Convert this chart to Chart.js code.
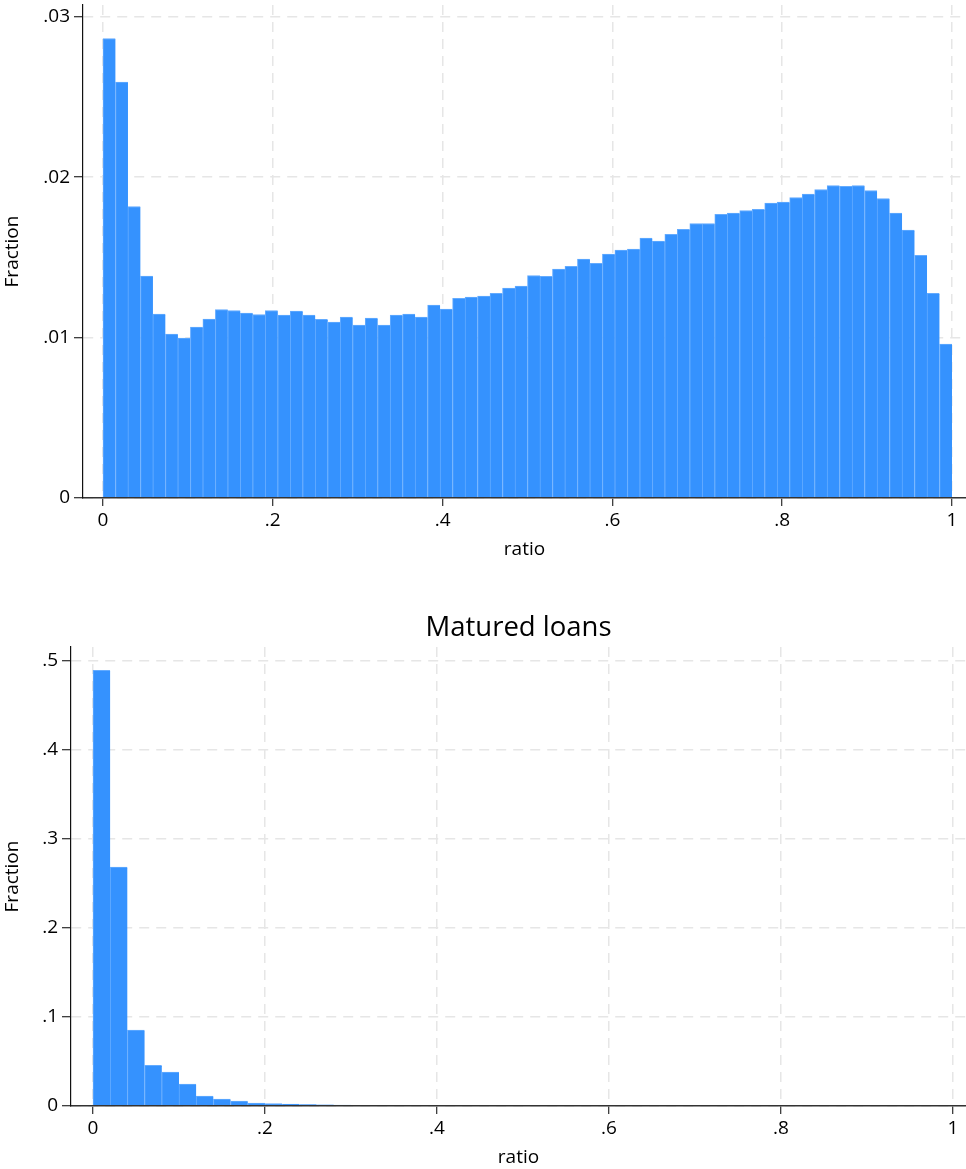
<!DOCTYPE html>
<html>
<head>
<meta charset="utf-8">
<title>ratio histograms</title>
<script src="https://cdn.jsdelivr.net/npm/chart.js@4.4.1/dist/chart.umd.min.js"></script>
<style>
  html, body { margin: 0; padding: 0; background: #fff; }
  #wrap { position: relative; width: 966px; height: 1169px; }
  .panel { position: absolute; left: 0; width: 966px; }
  #panelAll { top: 0; height: 580px; }
  #panelMatured { top: 580px; height: 589px; }
  canvas { display: block; }
</style>
</head>
<body>
<div id="wrap">
  <div class="panel" id="panelAll"><canvas id="allChart" width="966" height="580"></canvas></div>
  <div class="panel" id="panelMatured"><canvas id="maturedChart" width="966" height="589"></canvas></div>
</div>
<script>
// All loans: fraction of observations in each of 68 equal-width bins of ratio on [0, 1]
const allLoansFraction = [
  0.02864, 0.02592, 0.01817, 0.01383, 0.01146, 0.01022, 0.00997, 0.01065,
  0.01115, 0.01175, 0.01169, 0.01153, 0.01144, 0.01169, 0.01140, 0.01165,
  0.01140, 0.01113, 0.01097, 0.01128, 0.01078, 0.01121, 0.01078, 0.01140,
  0.01146, 0.01128, 0.01202, 0.01178, 0.01244, 0.01252, 0.01259, 0.01275,
  0.01308, 0.01321, 0.01387, 0.01381, 0.01427, 0.01444, 0.01489, 0.01462,
  0.01520, 0.01545, 0.01551, 0.01620, 0.01601, 0.01643, 0.01675, 0.01711,
  0.01711, 0.01768, 0.01776, 0.01792, 0.01799, 0.01838, 0.01844, 0.01873,
  0.01894, 0.01923, 0.01948, 0.01942, 0.01948, 0.01917, 0.01867, 0.01776,
  0.01670, 0.01512, 0.01275, 0.00960
];

// Matured loans: fraction of observations in 50 bins of width .02
const maturedFraction = [
  0.4893, 0.2682, 0.0853, 0.0457, 0.0382, 0.0247, 0.0112, 0.0079,
  0.0056, 0.0034, 0.0026, 0.0022, 0.0017, 0.0012, 0.0009, 0.0008,
  0.0007, 0.0007, 0.0006, 0.0006, 0.0006, 0.0005, 0.0005, 0.0005,
  0.0005, 0.0004, 0.0004, 0.0004, 0.0004, 0.0004, 0.0004, 0.0003,
  0.0003, 0.0003, 0.0003, 0.0003, 0.0003, 0.0003, 0.0003, 0.0003,
  0.0003, 0.0003, 0.0003, 0.0003, 0.0003, 0.0003, 0.0003, 0.0003,
  0.0000, 0.0005
];

const ratioTickValues = [0, 0.2, 0.4, 0.6, 0.8, 1];
const ratioTickLabels = ['0', '.2', '.4', '.6', '.8', '1'];
const allFractionTickValues = [0, 0.01, 0.02, 0.03];
const allFractionTickLabels = ['0', '.01', '.02', '.03'];
const maturedFractionTickValues = [0, 0.1, 0.2, 0.3, 0.4, 0.5];
const maturedFractionTickLabels = ['0', '.1', '.2', '.3', '.4', '.5'];

const FONT = 'Open Sans';
const TEXT_SIZE = 19;
const BAR_FILL = '#3592fe';
const BAR_EDGE = '#63abff';
const GRID = '#e6e6e6';
const INK = '#000';

function histogram(canvasId, fractions, yTickValues, yTickLabels, g) {
  const n = fractions.length;
  const points = fractions.map((v, i) => ({ x: (i + 0.5) / n, y: v }));
  return new Chart(document.getElementById(canvasId), {
    type: 'bar',
    data: {
      datasets: [{
        data: points,
        backgroundColor: BAR_FILL,
        borderColor: BAR_EDGE,
        borderWidth: { top: 1, left: 1, right: 0, bottom: 0 },
        borderSkipped: 'start',
        barPercentage: 1,
        categoryPercentage: 1
      }]
    },
    options: {
      responsive: false,
      animation: false,
      layout: { padding: { top: g.padTop, left: 0, right: 0, bottom: 0 } },
      plugins: {
        legend: { display: false },
        tooltip: { enabled: false },
        title: g.title ? {
          display: true,
          text: g.title,
          fullSize: false,
          color: INK,
          font: { family: FONT, size: 27.5, weight: 'normal', lineHeight: 1.2 },
          padding: { top: g.titlePadTop, bottom: g.titlePadBottom }
        } : { display: false }
      },
      scales: {
        x: {
          type: 'linear',
          offset: false,
          min: g.xMin,
          max: g.xMax,
          afterBuildTicks: s => { s.ticks = ratioTickValues.map(v => ({ value: v })); },
          afterFit: s => { s.height = g.xAxisHeight; s.paddingLeft = 0; s.paddingRight = 0; },
          ticks: {
            autoSkip: false, maxRotation: 0, padding: 3, color: INK,
            font: { family: FONT, size: TEXT_SIZE },
            callback: (v, i) => ratioTickLabels[i]
          },
          grid: {
            offset: false,
            color: GRID, lineWidth: 1.5, tickLength: 8, tickColor: INK, tickWidth: 1,
            tickBorderDash: []
          },
          border: { display: true, color: '#333', width: 1.5, dash: [10, 7], z: 1 },
          title: {
            display: true, text: 'ratio', color: INK,
            font: { family: FONT, size: TEXT_SIZE, lineHeight: 1.2 },
            padding: { top: 0, bottom: g.xTitlePadBottom }
          }
        },
        y: {
          type: 'linear',
          min: 0,
          max: g.yMax,
          afterBuildTicks: s => { s.ticks = yTickValues.map(v => ({ value: v })); },
          afterFit: s => { s.width = g.yAxisWidth; s.paddingTop = 0; s.paddingBottom = 0; },
          ticks: {
            autoSkip: false, padding: 4, color: INK,
            font: { family: FONT, size: TEXT_SIZE },
            callback: (v, i) => yTickLabels[i]
          },
          grid: {
            color: GRID, lineWidth: 1.5, tickLength: 9, tickColor: INK, tickWidth: 1,
            tickBorderDash: []
          },
          border: { display: true, color: '#111', width: 1.2, dash: [10, 7], z: 1 },
          title: {
            display: true, text: 'Fraction', color: INK,
            font: { family: FONT, size: TEXT_SIZE, lineHeight: 1.2 },
            padding: { top: 1, bottom: 0 }
          }
        }
      }
    }
  });
}

histogram('allChart', allLoansFraction, allFractionTickValues, allFractionTickLabels, {
  padTop: 5,
  xMin: -0.02356, xMax: 1.01649,
  yMax: 0.03073,
  yAxisWidth: 83,
  xAxisHeight: 82,
  xTitlePadBottom: 18.6
});

histogram('maturedChart', maturedFraction, maturedFractionTickValues, maturedFractionTickLabels, {
  padTop: 0,
  title: 'Matured loans',
  titlePadTop: 31.5,
  titlePadBottom: 2.5,
  xMin: -0.02558, xMax: 1.01512,
  yMax: 0.5154,
  yAxisWidth: 71,
  xAxisHeight: 63,
  xTitlePadBottom: 0
});
</script>
</body>
</html>
